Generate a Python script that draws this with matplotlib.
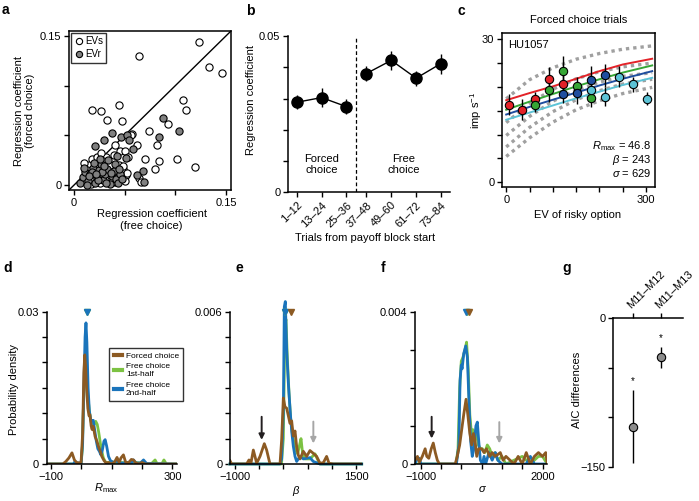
import numpy as np
import matplotlib
matplotlib.use('Agg')
import matplotlib.pyplot as plt
from matplotlib.lines import Line2D

plt.rcParams['font.family'] = ['Liberation Sans', 'DejaVu Sans']
plt.rcParams['font.size'] = 8
plt.rcParams['mathtext.fontset'] = 'custom'
plt.rcParams['mathtext.rm'] = 'Liberation Sans'
plt.rcParams['mathtext.it'] = 'Liberation Sans:italic'
plt.rcParams['axes.linewidth'] = 1.1
plt.rcParams['xtick.major.width'] = 1.0
plt.rcParams['ytick.major.width'] = 1.0
plt.rcParams['xtick.major.size'] = 3.5
plt.rcParams['ytick.major.size'] = 3.5
plt.rcParams['xtick.direction'] = 'out'
plt.rcParams['ytick.direction'] = 'out'
plt.rcParams['xtick.major.pad'] = 2
plt.rcParams['ytick.major.pad'] = 2

# ---------------- data ----------------
# panel a
evs_x = [0.123, 0.064, 0.133, 0.146, 0.044, 0.018, 0.027, 0.033, 0.047, 0.108, 0.111, 0.093, 0.074,
         0.057, 0.082, 0.062, 0.070, 0.084, 0.102, 0.119, 0.080, 0.045, 0.050, 0.053, 0.040, 0.056,
         0.048, 0.051, 0.045, 0.064, 0.066,
         0.008, 0.012, 0.015, 0.018, 0.020, 0.022, 0.024, 0.026, 0.028, 0.030, 0.032, 0.034, 0.036,
         0.038, 0.040, 0.042, 0.044, 0.046, 0.048, 0.050, 0.052, 0.013, 0.017, 0.021, 0.025, 0.029,
         0.033, 0.037, 0.041, 0.010, 0.016, 0.023, 0.031, 0.035, 0.043, 0.048, 0.039, 0.027]
evs_y = [0.144, 0.130, 0.119, 0.113, 0.081, 0.0755, 0.075, 0.065, 0.064, 0.086, 0.076, 0.061, 0.054,
         0.051, 0.040, 0.040, 0.026, 0.024, 0.026, 0.018, 0.016, 0.034, 0.034, 0.028, 0.040, 0.050,
         0.014, 0.010, 0.007, 0.007, 0.003,
         0.004, 0.010, 0.020, 0.026, 0.006, 0.014, 0.022, 0.002, 0.011, 0.018, 0.028, 0.007, 0.015,
         0.024, 0.003, 0.012, 0.020, 0.009, 0.016, 0.004, 0.012, 0.015, 0.001, 0.018, 0.009, 0.024,
         0.013, 0.003, 0.017, 0.022, 0.007, 0.028, 0.005, 0.020, 0.008, 0.019, 0.030, 0.032]
evr_x = [0.088, 0.104, 0.084, 0.037, 0.030, 0.021, 0.046, 0.052, 0.054, 0.042, 0.051, 0.068, 0.062,
         0.069, 0.058,
         0.006, 0.009, 0.011, 0.014, 0.016, 0.019, 0.021, 0.023, 0.025, 0.027, 0.029, 0.031, 0.033,
         0.035, 0.037, 0.039, 0.041, 0.043, 0.045, 0.047, 0.010, 0.013, 0.018, 0.020, 0.024, 0.028,
         0.032, 0.034, 0.036, 0.040, 0.044, 0.015, 0.026, 0.030, 0.022]
evr_y = [0.067, 0.054, 0.048, 0.052, 0.045, 0.039, 0.048, 0.050, 0.045, 0.029, 0.027, 0.014, 0.010,
         0.003, 0.036,
         0.002, 0.008, 0.013, 0.004, 0.011, 0.017, 0.002, 0.008, 0.015, 0.021, 0.005, 0.011, 0.016,
         0.001, 0.009, 0.014, 0.006, 0.002, 0.011, 0.006, 0.017, 0.000, 0.013, 0.022, 0.005, 0.013,
         0.002, 0.025, 0.012, 0.021, 0.016, 0.009, 0.026, 0.019, 0.011]

# panel b
trial_bins = ['1–12', '13–24', '25–36', '37–48', '49–60', '61–72', '73–84']
b_coef = [0.0288, 0.0303, 0.0274, 0.0380, 0.0422, 0.0365, 0.0412]
b_err = [0.0023, 0.0030, 0.0023, 0.0025, 0.0030, 0.0024, 0.0032]

# panel c
c_red_x = [6, 33, 62, 91, 122]
c_red_y = [16.3, 15.2, 17.4, 21.7, 20.5]
c_red_e = [2.2, 2.2, 1.5, 2.5, 2.5]
c_grn_x = [62, 91, 122, 152, 182]
c_grn_y = [16.3, 19.3, 23.4, 20.1, 17.7]
c_grn_e = [1.5, 2.5, 3.0, 2.0, 2.0]
c_blu_x = [122, 152, 182, 211]
c_blu_y = [18.6, 18.7, 21.5, 22.4]
c_blu_e = [2.0, 2.2, 2.8, 2.5]
c_cyn_x = [182, 211, 241, 271, 301]
c_cyn_y = [19.4, 17.9, 22.1, 20.5, 17.5]
c_cyn_e = [2.2, 2.0, 2.2, 1.5, 1.4]
c_fit_x = [0, 50, 100, 150, 200, 250, 313]
c_fit_red = [17.2, 18.7, 20.1, 21.7, 23.3, 24.7, 25.9]
c_fit_grn = [15.2, 16.9, 18.5, 20.1, 21.6, 23.0, 24.5]
c_fit_blu = [14.2, 15.8, 17.3, 18.8, 20.3, 21.7, 23.3]
c_fit_cyn = [13.1, 14.6, 16.1, 17.6, 19.0, 20.4, 21.9]
c_shuf = [[17.5, 21.5, 24.0, 25.8, 27.0, 27.9, 28.6],
          [12.5, 16.5, 19.5, 21.7, 23.2, 24.2, 25.0],
          [9.8, 13.8, 17.0, 19.3, 21.0, 22.2, 23.0],
          [7.4, 11.5, 14.8, 17.3, 19.2, 20.6, 21.6],
          [5.4, 9.3, 12.6, 15.2, 17.1, 18.6, 19.9]]

# panel d (Rmax densities)
d_forced_x = [-113, -60, -50, -40, -30, -22, -15, -5, 0, 5, 9, 12, 15, 18, 22, 26, 29, 33, 36, 40, 46,
              52, 57, 63, 68, 75, 82, 90, 100, 110, 118, 125, 131, 139, 146, 155, 165, 172, 180, 190,
              200, 210, 314]
d_forced_y = [0, 0, 0.0005, 0.0012, 0.0022, 0.0008, 0.0003, 0.0002, 0.0004, 0.006, 0.018, 0.0215,
              0.019, 0.015, 0.011, 0.0095, 0.0097, 0.0075, 0.0068, 0.0074, 0.0054, 0.0045, 0.0035,
              0.0025, 0.0015, 0.0007, 0.0002, 0.0003, 0.0, 0.0004, 0.0013, 0.0003, 0.0012, 0.0018,
              0.0004, 0.0002, 0.0009, 0.0008, 0.0002, 0.0, 0.0003, 0.0, 0.0]
d_free1_x = [-113, 0, 4, 8, 12, 15, 18, 22, 27, 32, 37, 43, 48, 53, 58, 63, 68, 73, 80, 90, 100, 110,
             130, 150, 170, 200, 230, 243, 250, 265, 272, 280, 314]
d_free1_y = [0, 0, 0.003, 0.012, 0.018, 0.0195, 0.017, 0.0135, 0.0105, 0.0085, 0.0075, 0.0078, 0.0084,
             0.0078, 0.0062, 0.0042, 0.0025, 0.0012, 0.0004, 0.0002, 0.0005, 0.0002, 0.0003, 0.0002,
             0.0003, 0.0002, 0.0, 0.0008, 0.0, 0.0, 0.0008, 0.0, 0.0]
d_free2_x = [-113, -25, -20, -14, 0, 5, 9, 13, 16, 19, 23, 27, 31, 35, 40, 45, 50, 55, 60, 65, 70, 75,
             79, 84, 90, 96, 105, 115, 125, 140, 155, 165, 172, 180, 195, 205, 215, 314]
d_free2_y = [0, 0, 0.0005, 0.0002, 0.0002, 0.004, 0.015, 0.025, 0.0278, 0.024, 0.015, 0.0105, 0.0088,
             0.0085, 0.0086, 0.0065, 0.0045, 0.003, 0.0025, 0.0018, 0.0028, 0.0045, 0.0048, 0.0035,
             0.0015, 0.0007, 0.0003, 0.0006, 0.0002, 0.0002, 0.0003, 0.0001, 0.0008, 0.0002, 0.0002,
             0.0008, 0.0001, 0.0]
d_medians = [20, 20]

# panel e (beta densities)
e_forced_x = [-1103, -1069, -759, -711, -670, -621, -587, -552, -483, -394, -346, -277, -70, -36, -1,
              33, 68, 102, 136, 171, 205, 240, 274, 308, 343, 412, 481, 549, 618, 687, 756, 825, 893,
              942, 1032, 1618]
e_forced_y = [0.00013, 0, 0, 0.00016, 0.00003, 0.00055, 0.0003, 0.00003, 0.0003, 0.0008, 0.00055, 0, 0,
              0.00095, 0.0026, 0.00225, 0.0022, 0.0019, 0.0016, 0.0017, 0.0011, 0.0013, 0.0007,
              0.00035, 0.0002, 0.0005, 0.0003, 0.00053, 0.00042, 0.0003, 0.00003, 0.00005, 0.0003,
              0.00003, 0, 0]
e_free1_x = [-1103, -40, -1, 33, 54, 81, 116, 150, 185, 240, 295, 329, 364, 398, 446, 549, 653, 701,
             756, 1618]
e_free1_y = [0, 0, 0.001, 0.0055, 0.0057, 0.0042, 0.0028, 0.0018, 0.0012, 0.0006, 0.0004, 0.0007,
             0.0010, 0.0004, 0.0002, 0.0002, 0.0004, 0.0002, 0, 0]
e_free2_x = [-1103, -70, -36, -1, 19, 40, 68, 102, 136, 171, 205, 240, 274, 343, 412, 549, 618, 756,
             1618]
e_free2_y = [0, 0, 0.0002, 0.002, 0.0062, 0.0064, 0.0045, 0.0032, 0.0022, 0.0013, 0.0007, 0.0003,
             0.0001, 0.0003, 0.0002, 0.00025, 0.0001, 0, 0]
e_medians = [40, 35, 150]
e_arrows_x = [-449, 619]

# panel f (sigma densities)
f_forced_x = [-1140, -1080, -1030, -960, -890, -850, -800, -740, -690, -640, -590, -540, -150, -100,
              -40, 10, 60, 117, 160, 210, 256, 300, 340, 380, 430, 500, 560, 620, 700, 760, 830, 900,
              960, 1030, 1100, 1200, 1300, 1400, 1500, 1600, 1700, 1800, 1900, 2000, 2080, 2118]
f_forced_y = [0.0001, 0.0002, 0.00005, 0.0002, 0.0004, 0.0002, 0.00015, 0.0004, 0.00055, 0.0003,
              0.0001, 0, 0, 0.0002, 0.0005, 0.0009, 0.0013, 0.0017, 0.0013, 0.0008, 0.0005, 0.0008,
              0.0006, 0.0002, 0.0004, 0.0004, 0.0003, 0.0004, 0.0002, 0.0003, 0.0002, 0.00025, 0.0003,
              0.0001, 0.0002, 0.0001, 0, 0.0002, 0, 0.0003, 0, 0.0002, 0.0003, 0.0002, 0.0003, 0]
f_free1_x = [-1140, -130, -80, -40, 0, 40, 90, 130, 170, 210, 250, 290, 330, 380, 420, 470, 520, 580,
             640, 700, 760, 830, 900, 1000, 1100, 1300, 1500, 1700, 1900, 2000, 2118]
f_free1_y = [0, 0, 0.0004, 0.0020, 0.0027, 0.0028, 0.0030, 0.0032, 0.0025, 0.0013, 0.0008, 0.0009,
             0.0006, 0.0009, 0.0005, 0.0004, 0.0004, 0.0003, 0.0005, 0.0004, 0.0002, 0.0003, 0.0001,
             0.0002, 0, 0.0001, 0.0002, 0, 0.0002, 0.0002, 0]
f_free2_x = [-1140, -1100, -1040, -990, -120, -60, -30, 0, 20, 60, 110, 150, 190, 230, 270, 310, 360,
             395, 430, 470, 520, 560, 600, 680, 760, 840, 900, 1000, 1600, 1700, 1800, 2118]
f_free2_y = [0, 0.0001, 0.00015, 0, 0, 0.0005, 0.0022, 0.0026, 0.0025, 0.0029, 0.0031, 0.0028, 0.0016,
             0.0006, 0.0002, 0.0004, 0.0010, 0.0011, 0.0006, 0.0001, 0, 0.0002, 0, 0.0003, 0.0001,
             0.0003, 0.0001, 0, 0, 0.0002, 0, 0]
f_medians = [150, 120, 180]
f_arrows_x = [-730, 936]

# panel g
g_labels = ['M11–M12', 'M11–M13']
g_mean = [-109.6, -39.4]
g_lo = [-146.6, -49.9]
g_hi = [-72.5, -29.3]

# ---------------- colours ----------------
BROWN = '#8c5a23'
GREEN = '#7cc242'
BLUE = '#1a74bb'
GRAY_DOT = '#a0a0a0'

fig = plt.figure(figsize=(6.99, 5.01), dpi=100)
W, H = 699.0, 501.0


def px_axes(l, t, r, b):
    return fig.add_axes([l / W, 1 - b / H, (r - l) / W, (b - t) / H])


def label(x, y, s):
    fig.text(x / W, 1 - y / H, s, fontsize=10, fontweight='bold', va='top', ha='left')


# ---------------- panel a ----------------
ax = px_axes(69, 31, 231, 190)
ax.set_xlim(-0.005, 0.155)
ax.set_ylim(-0.005, 0.155)
ax.plot([-0.005, 0.155], [-0.005, 0.155], color='black', lw=1.0, zorder=1)
ax.scatter(evs_x, evs_y, s=27, facecolor='white', edgecolor='black', linewidth=0.8, zorder=2)
ax.scatter(evr_x, evr_y, s=27, facecolor='#808080', edgecolor='black', linewidth=0.8, zorder=3)
ax.set_xticks([0, 0.05, 0.10, 0.15])
ax.set_xticklabels(['0', '', '', '0.15'])
ax.set_yticks([0, 0.05, 0.10, 0.15])
ax.set_yticklabels(['0', '', '', '0.15'])
ax.set_xlabel('Regression coefficient\n(free choice)')
ax.xaxis.set_label_coords(0.51, -0.12)
ax.set_ylabel('Regression coefficient\n(forced choice)', linespacing=1.1)
ax.yaxis.set_label_coords(-0.21, 0.5)
hs = [Line2D([], [], marker='o', ls='', mfc='white', mec='black', ms=4.5, mew=0.8),
      Line2D([], [], marker='o', ls='', mfc='#808080', mec='black', ms=4.5, mew=0.8)]
lg = ax.legend(hs, ['EVs', 'EVr'], loc='upper left', fontsize=7, frameon=True, fancybox=False,
               borderpad=0.35, handletextpad=0.1, handlelength=1.0, labelspacing=0.3,
               borderaxespad=0.2)
lg.get_frame().set_edgecolor('black')
lg.get_frame().set_linewidth(1.0)
label(2, 3, 'a')

# ---------------- panel b ----------------
ax = px_axes(288, 36, 450, 192.3)
idx = np.arange(len(trial_bins))
xpos = idx - 0.2 * (idx >= 3)
ax.errorbar(xpos[:3], b_coef[:3], yerr=b_err[:3], color='black', marker='o', ms=8, lw=1.0,
            elinewidth=1.0, capsize=0)
ax.errorbar(xpos[3:], b_coef[3:], yerr=b_err[3:], color='black', marker='o', ms=8, lw=1.0,
            elinewidth=1.0, capsize=0)
ax.axvline((xpos[2] + xpos[3]) / 2, color='black', ls=(0, (3, 2)), lw=0.9)
ax.set_xlim(-0.35, 6.16)
ax.set_ylim(0, 0.05)
ax.set_xticks(xpos)
ax.set_xticklabels(trial_bins, rotation=45, ha='right', rotation_mode='anchor')
ax.set_yticks([0, 0.01, 0.02, 0.03, 0.04, 0.05])
ax.set_yticklabels(['0', '', '', '', '', '0.05'])
ax.spines['top'].set_visible(False)
ax.spines['right'].set_visible(False)
ax.text(1.0, 0.0089, 'Forced\nchoice', ha='center', va='center', linespacing=1.2)
ax.text(4.3, 0.0089, 'Free\nchoice', ha='center', va='center', linespacing=1.2)
ax.set_ylabel('Regression coefficient')
ax.yaxis.set_label_coords(-0.2, 0.59)
ax.set_xlabel('Trials from payoff block start')
ax.xaxis.set_label_coords(0.475, -0.26)
label(246, 4, 'b')

# ---------------- panel c ----------------
ax = px_axes(502, 33, 655, 187)
ax.set_xlim(-9, 319)
ax.set_ylim(-1, 31.3)
for ys in c_shuf:
    ax.plot(c_fit_x, ys, color=GRAY_DOT, lw=2.4, ls=(0, (1, 1.2)), zorder=1)
for ys, col in [(c_fit_red, '#e32228'), (c_fit_grn, '#36a635'), (c_fit_blu, '#1f4e9f'),
                (c_fit_cyn, '#5cc3d6')]:
    ax.plot(c_fit_x, ys, color=col, lw=1.4, zorder=2)
for xs, ys, es, col in [(c_red_x, c_red_y, c_red_e, '#e32228'), (c_grn_x, c_grn_y, c_grn_e, '#36a635'),
                        (c_blu_x, c_blu_y, c_blu_e, '#1f4e9f'), (c_cyn_x, c_cyn_y, c_cyn_e, '#5cc3d6')]:
    ax.errorbar(xs, ys, yerr=es, fmt='o', mfc=col, mec='black', mew=0.8, ms=6, ecolor='black',
                elinewidth=1.0, capsize=0, zorder=3)
ax.set_xticks([0, 50, 100, 150, 200, 250, 300])
ax.set_xticklabels(['0', '', '', '', '', '', '300'])
ax.set_yticks([0, 5, 10, 15, 20, 25, 30])
ax.set_yticklabels(['0', '', '', '', '', '', '30'])
ax.set_title('Forced choice trials', fontsize=8, pad=7)
ax.text(0.04, 0.955, 'HU1057', transform=ax.transAxes, ha='left', va='top')
ax.text(0.975, 0.265, r'$R_{\rm max}$ = 46.8', transform=ax.transAxes, ha='right', va='center')
ax.text(0.975, 0.178, r'$\beta$ = 243', transform=ax.transAxes, ha='right', va='center')
ax.text(0.975, 0.091, r'$\sigma$ = 629', transform=ax.transAxes, ha='right', va='center')
ax.set_xlabel('EV of risky option')
ax.xaxis.set_label_coords(0.497, -0.15)
ax.set_ylabel('imp s$^{-1}$')
ax.yaxis.set_label_coords(-0.12, 0.5)
label(458, 4, 'c')


def density_axes(l, r, xlim, ylim, xt, xtl, yt, ytl):
    a = px_axes(l, 311.7, r, 464)
    a.set_xlim(*xlim)
    a.set_ylim(*ylim)
    a.spines['top'].set_visible(False)
    a.spines['right'].set_visible(False)
    a.set_xticks(xt)
    a.set_xticklabels(xtl)
    a.set_yticks(yt)
    a.set_yticklabels(ytl)
    return a


def arrow(a, x, y0, y1, col):
    a.annotate('', xy=(x, y1), xytext=(x, y0),
               arrowprops=dict(arrowstyle='-|>', color=col, lw=1.4, mutation_scale=8,
                               shrinkA=0, shrinkB=0))


LW = 2.0

# ---------------- panel d ----------------
ax = density_axes(46.7, 176.7, (-113, 314), (0, 0.03), [-100, 0, 100, 200, 300],
                  ['−100', '', '', '', '300'], np.arange(7) * 0.005, ['0', '', '', '', '', '', '0.03'])
ax.plot(d_free1_x, d_free1_y, color=GREEN, lw=LW, label='Free choice\n1st-half')
ax.plot(d_free2_x, d_free2_y, color=BLUE, lw=LW, label='Free choice\n2nd-half')
ax.plot(d_forced_x, d_forced_y, color=BROWN, lw=LW, label='Forced choice')
ax.plot([d_medians[0]], [0.03], marker='v', color=GREEN, ms=4.5, clip_on=False, ls='')
ax.plot([d_medians[1]], [0.03], marker='v', color=BLUE, ms=4.5, clip_on=False, ls='')
h, l = ax.get_legend_handles_labels()
lg = ax.legend([h[2], h[0], h[1]], [l[2], l[0], l[1]], loc='upper left',
               bbox_to_anchor=(0.45, 0.79), fontsize=6, frameon=True, fancybox=False,
               handlelength=1.0, handletextpad=0.5, borderpad=0.5, labelspacing=0.4)
lg.get_frame().set_edgecolor('black')
lg.get_frame().set_linewidth(1.0)
for ln in lg.get_lines():
    ln.set_linewidth(3)
ax.set_xlabel(r'$R_{\rm max}$')
ax.xaxis.set_label_coords(0.46, -0.11)
ax.set_ylabel('Probability density')
ax.yaxis.set_label_coords(-0.21, 0.486)
label(3, 261, 'd')

# ---------------- panel e ----------------
ax = density_axes(230, 361.7, (-1103, 1618), (0, 0.006), np.arange(-1000, 1501, 500),
                  ['−1000', '', '', '', '', '1500'], np.arange(7) * 0.001,
                  ['0', '', '', '', '', '', '0.006'])
ax.plot(e_free1_x, e_free1_y, color=GREEN, lw=LW, clip_on=False)
ax.plot(e_free2_x, e_free2_y, color=BLUE, lw=LW, clip_on=False)
ax.plot(e_forced_x, e_forced_y, color=BROWN, lw=LW)
for xm, col in zip(e_medians, [GREEN, BLUE, BROWN]):
    ax.plot([xm], [0.006], marker='v', color=col, ms=4.5, clip_on=False, ls='')
arrow(ax, e_arrows_x[0], 0.00186, 0.00095, '#231f20')
arrow(ax, e_arrows_x[1], 0.00167, 0.00081, '#a6a6a6')
ax.set_xlabel(r'$\beta$')
ax.xaxis.set_label_coords(0.5, -0.13)
label(236, 261, 'e')

# ---------------- panel f ----------------
ax = density_axes(415, 547.3, (-1140, 2118), (0, 0.004), np.arange(-1000, 2001, 500),
                  ['−1000', '', '', '', '', '', '2000'], np.arange(5) * 0.001,
                  ['0', '', '', '', '0.004'])
ax.plot(f_free1_x, f_free1_y, color=GREEN, lw=LW)
ax.plot(f_free2_x, f_free2_y, color=BLUE, lw=LW)
ax.plot(f_forced_x, f_forced_y, color=BROWN, lw=LW)
for xm, col in zip(f_medians, [GREEN, BLUE, BROWN]):
    ax.plot([xm], [0.004], marker='v', color=col, ms=4.5, clip_on=False, ls='')
arrow(ax, f_arrows_x[0], 0.00124, 0.00067, '#231f20')
arrow(ax, f_arrows_x[1], 0.0011, 0.00054, '#a6a6a6')
ax.set_xlabel(r'$\sigma$')
ax.xaxis.set_label_coords(0.51, -0.13)
label(381, 261, 'f')

# ---------------- panel g ----------------
ax = px_axes(613.3, 318.3, 682.7, 466.7)
gx = np.arange(1, len(g_labels) + 1)
ax.errorbar(gx, g_mean, yerr=[np.subtract(g_mean, g_lo), np.subtract(g_hi, g_mean)], fmt='o',
            mfc='#8c8c8c', mec='black', mew=0.8, ms=6, ecolor='black', elinewidth=1.0, capsize=0)
for xx, hi in zip(gx, g_hi):
    ax.text(xx, hi + 4, '*', ha='center', va='bottom', fontsize=7)
ax.set_xlim(0.31, 2.79)
ax.set_ylim(-150, 0)
ax.spines['bottom'].set_visible(False)
ax.spines['right'].set_visible(False)
ax.xaxis.tick_top()
ax.set_xticks(gx)
ax.set_xticklabels(g_labels, rotation=45, ha='left', rotation_mode='anchor')
ax.set_yticks([0, -50, -100, -150])
ax.set_yticklabels(['0', '', '', '−150'])
ax.set_ylabel('AIC differences')
ax.yaxis.set_label_coords(-0.45, 0.52)
label(562, 261, 'g')

fig.savefig('out.png', dpi=100)
